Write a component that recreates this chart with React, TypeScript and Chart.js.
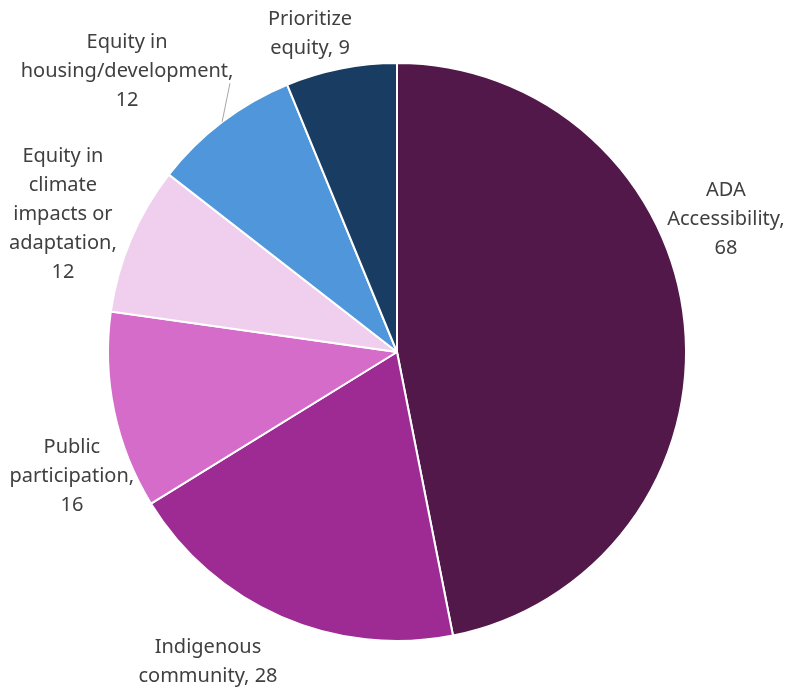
import React, { useEffect, useRef } from "react";
import { Chart, registerables } from "chart.js";

Chart.register(...registerables);

const categories: string[][] = [
  ["ADA", "Accessibility,", "68"],
  ["Indigenous", "community, 28"],
  ["Public", "participation,", "16"],
  ["Equity in", "climate", "impacts or", "adaptation,", "12"],
  ["Equity in", "housing/development,", "12"],
  ["Prioritize", "equity, 9"],
];
const values: number[] = [68, 28, 16, 12, 12, 9];
const colors: string[] = ["#521849", "#9E2A93", "#D56CC9", "#F0CEEE", "#5096DA", "#193C63"];

// label centres in units of the pie radius, relative to the pie centre
const labelOffsets: [number, number][] = [
  [1.138, -0.46],
  [-0.654, 1.071],
  [-1.125, 0.429],
  [-1.156, -0.478],
  [-0.934, -0.972],
  [-0.301, -1.1],
];
// leader line (slice index -> end offset relative to label centre, radius units)
const leaders: Record<number, [number, number]> = { 4: [0.356, 0.042] };

const labelPlugin = {
  id: "pieLabels",
  afterDraw(chart: any) {
    const meta = chart.getDatasetMeta(0);
    const ctx = chart.ctx as CanvasRenderingContext2D;
    const lineH = 29;
    ctx.save();
    ctx.font = '20px "Noto Sans"';
    ctx.fillStyle = "#404040";
    ctx.textAlign = "center";
    ctx.textBaseline = "middle";
    meta.data.forEach((arc: any, i: number) => {
      const cx = arc.x, cy = arc.y, r = arc.outerRadius;
      const lx = cx + labelOffsets[i][0] * r;
      const ly = cy + labelOffsets[i][1] * r;
      const lines = categories[i];
      const top = ly - ((lines.length - 1) * lineH) / 2;
      lines.forEach((t, k) => ctx.fillText(t, lx, top + k * lineH));
      const ld = leaders[i];
      if (ld) {
        const mid = (arc.startAngle + arc.endAngle) / 2;
        ctx.strokeStyle = "#A6A6A6";
        ctx.lineWidth = 1;
        ctx.beginPath();
        ctx.moveTo(cx + Math.cos(mid) * r, cy + Math.sin(mid) * r);
        ctx.lineTo(lx + ld[0] * r, ly + ld[1] * r);
        ctx.stroke();
      }
    });
    ctx.restore();
  },
};

export default function App() {
  const ref = useRef<HTMLCanvasElement>(null);
  useEffect(() => {
    if (!ref.current) return;
    const chart = new Chart(ref.current, {
      type: "pie",
      data: {
        labels: categories.map((c) => c.join(" ")),
        datasets: [
          {
            data: values,
            backgroundColor: colors,
            borderColor: "#ffffff",
            borderWidth: 2,
          },
        ],
      },
      options: {
        responsive: false,
        animation: false,
        layout: { padding: { top: 62, bottom: 46, left: 107, right: 99 } },
        plugins: { legend: { display: false }, tooltip: { enabled: false } },
      },
      plugins: [labelPlugin],
    });
    return () => chart.destroy();
  }, []);
  return (
    <div style={{ position: "absolute", left: 0, top: 0, width: 786, height: 688, background: "#fff" }}>
      <canvas ref={ref} width={786} height={688} style={{ display: "block" }} />
    </div>
  );
}
